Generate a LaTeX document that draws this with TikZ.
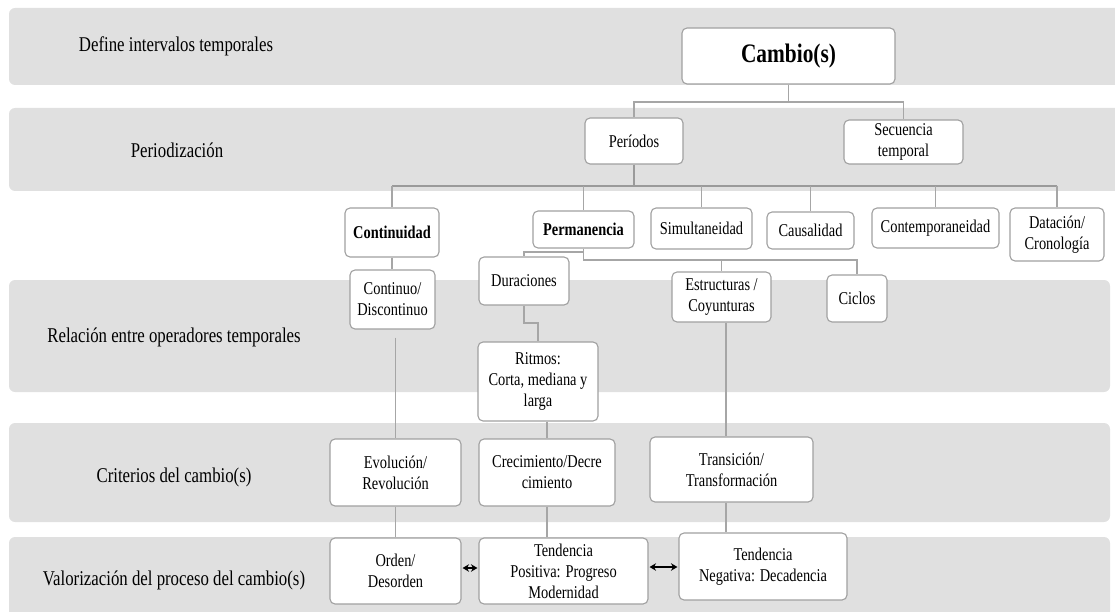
\documentclass[tikz,border=0pt]{standalone}
\usepackage{fontspec}
\setmainfont{Liberation Serif}[FakeStretch=0.8]
\usetikzlibrary{arrows.meta,calc}
\definecolor{bandgray}{HTML}{E0E0E0}
\definecolor{boxline}{HTML}{A0A0A0}
\definecolor{connline}{HTML}{A6A6A6}
\definecolor{busline}{HTML}{9A9A9A}
\tikzset{
  band/.style={fill=bandgray, rounded corners=6pt},
  lbl/.style={font=\fontsize{21}{25}\selectfont, inner sep=0pt},
  box/.style={draw=boxline, line width=1.1pt, fill=white, rounded corners=5pt,
    inner sep=0pt, align=center, font=\fontsize{18}{21}\selectfont},
  bbox/.style={box, font=\fontsize{18}{21}\selectfont\bfseries},
  conn/.style={draw=connline, line width=1.2pt},
  bus/.style={draw=busline, line width=1.8pt},
  arr/.style={draw=black, line width=1.3pt, {Stealth[length=6.5pt,width=7.5pt]}-{Stealth[length=6.5pt,width=7.5pt]}}
}
\begin{document}
\begin{tikzpicture}[x=1pt,y=-1pt]
\useasboundingbox (0,0) rectangle (1115,612);
\clip (0,0) rectangle (1115,612);
% bands
\fill[band] (9,8) rectangle (1135,85);
\fill[band] (9,108) rectangle (1135,191);
\fill[band] (9,280) rectangle (1110,392);
\fill[band] (9,423) rectangle (1110,522);
\fill[band] (9,537) rectangle (1110,640);
% band labels
\node[lbl] (l1) at (176,46) {Define intervalos temporales};
\node[lbl] (l2) at (177,150) {Periodización};
\node[lbl] (l3) at (174,337) {Relación entre operadores temporales};
\node[lbl] (l4) at (174,477) {Criterios del cambio(s)};
\node[lbl] (l5) at (174,580) {Valorización del proceso del cambio(s)};
% nodes
\node[box, minimum width=213pt, minimum height=56pt, font=\fontsize{26.7}{30}\selectfont\bfseries] (cambio) at (788.5,56) {Cambio(s)};
\node[box, minimum width=98pt, minimum height=46pt] (periodos) at (634,141) {Períodos};
\node[box, minimum width=119pt, minimum height=44pt] (secuencia) at (903.5,142) {Secuencia\\temporal};
\node[bbox, minimum width=94pt, minimum height=49pt] (continuidad) at (392,232.5) {Continuidad};
\node[bbox, minimum width=101pt, minimum height=37pt] (permanencia) at (583.5,229.5) {Permanencia};
\node[box, minimum width=101pt, minimum height=41pt] (simultaneidad) at (701.5,228.5) {Simultaneidad};
\node[box, minimum width=87pt, minimum height=37pt] (causalidad) at (810.5,230.5) {Causalidad};
\node[box, minimum width=127pt, minimum height=40pt] (contemp) at (935.5,228) {Contemporaneidad};
\node[box, minimum width=94pt, minimum height=53pt] (datacion) at (1057,234.5) {Datación/\\Cronología};
\node[box, minimum width=85pt, minimum height=59pt] (continuo) at (392.5,299.5) {Continuo/\\Discontinuo};
\node[box, minimum width=90pt, minimum height=48pt] (duraciones) at (524,281) {Duraciones};
\node[box, minimum width=99pt, minimum height=50pt] (estructuras) at (721.5,297) {Estructuras /\\Coyunturas};
\node[box, minimum width=60pt, minimum height=47pt] (ciclos) at (857,298.5) {Ciclos};
\node[box, minimum width=120pt, minimum height=79pt] (ritmos) at (538,381.5) {Ritmos:\\Corta, mediana y\\larga};
\node[box, minimum width=131pt, minimum height=67pt] (evolucion) at (395.5,472.5) {Evolución/\\Revolución};
\node[box, minimum width=136pt, minimum height=67pt] (crecimiento) at (547,472.5) {Crecimiento/Decre\\cimiento};
\node[box, minimum width=163pt, minimum height=65pt] (transicion) at (731.5,469.5) {Transición/\\Transformación};
\node[box, minimum width=131pt, minimum height=66pt] (orden) at (395.5,571) {Orden/\\Desorden};
\node[box, minimum width=169pt, minimum height=66pt] (positiva) at (563.5,571) {Tendencia\\Positiva: Progreso\\Modernidad};
\node[box, minimum width=168pt, minimum height=67pt] (negativa) at (763,566.5) {Tendencia\\Negativa: Decadencia};
% helper coordinates
\coordinate (h1) at (0,102);
\coordinate (h2) at (0,186);
\coordinate (h3) at (0,252);
\coordinate (h4) at (0,260);
\coordinate (h5) at (0,323);
\coordinate (v1) at (726,0);
\coordinate (g1) at ($(continuo.south)+(0,8)$);
% connectors
\draw[conn] (cambio.south) -- (cambio.south |- h1);
\draw[conn] (periodos.north) -- (periodos.north |- h1) -- (secuencia.north |- h1) -- (secuencia.north);
\draw[bus] (periodos.south) -- (periodos.south |- h2);
\draw[bus] (continuidad.north |- h2) -- (datacion.north |- h2);
\foreach \n in {continuidad,permanencia,simultaneidad,causalidad,contemp,datacion}
  \draw[conn] (\n.north |- h2) -- (\n.north);
\draw[conn] (continuidad.south) -- (continuidad.south |- continuo.north);
\draw[conn] (permanencia.south) -- (permanencia.south |- h3) -- (duraciones.north |- h3) -- (duraciones.north);
\draw[conn] (permanencia.south |- h3) -- (permanencia.south |- h4) -- (ciclos.north |- h4) -- (ciclos.north);
\draw[conn] (estructuras.north |- h4) -- (estructuras.north);
\draw[conn] (duraciones.south) -- (duraciones.south |- h5) -- (ritmos.north |- h5) -- (ritmos.north);
\draw[conn] (g1 -| evolucion.north) -- (evolucion.north);
\draw[conn] (evolucion.south) -- (orden.north);
\draw[conn] (ritmos.south -| crecimiento.north) -- (crecimiento.north);
\draw[conn] (crecimiento.south) -- (crecimiento.south |- positiva.north);
\draw[conn] (estructuras.south -| v1) -- (transicion.north -| v1);
\draw[conn] (transicion.south -| v1) -- (negativa.north -| v1);
\draw[arr, shorten <=1pt, shorten >=1pt] (orden.east |- 0,568) -- (positiva.west |- 0,568);
\draw[arr, shorten <=1pt, shorten >=1pt] (positiva.east |- 0,567) -- (negativa.west |- 0,567);
\end{tikzpicture}
\end{document}
